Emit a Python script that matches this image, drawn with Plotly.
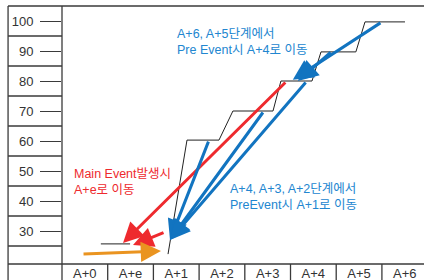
import plotly.graph_objects as go

# ---- category / axis data ----
x_labels = ["A+0", "A+e", "A+1", "A+2", "A+3", "A+4", "A+5", "A+6"]
x_pos = list(range(len(x_labels)))
y_ticks = [100, 90, 80, 70, 60, 50, 40, 30]
row_borders = [95, 85, 75, 65, 55, 45, 35, 25]
col_borders = [0.5, 1.5, 2.5, 3.5, 4.5, 5.5, 6.5]

# ---- black step line (price path) ----
step_x = [0.35, 0.99, None, 1.82, 2.235, 2.935, 3.24, 4.117, 4.29, 4.97, 5.167, 5.93, 6.13, 7.005]
step_y = [25.7, 25.7, None, 22.3, 60.3, 60.3, 70.0, 70.0, 80.0, 80.0, 89.7, 89.7, 99.7, 99.7]

# ---- arrows: tail (from) -> head (to) ----
red_from_x = [4.42, 1.754]
red_from_y = [80.0, 29.7]
red_to_x = [0.835, 1.054]
red_to_y = [26.0, 25.3]

blue_low_from_x = [2.717, 3.92, 4.86]      # A+2, A+3, A+4 -> A+1
blue_low_from_y = [60.3, 70.0, 80.0]
blue_low_to_x = [1.863, 1.863, 1.863]
blue_low_to_y = [27.0, 27.0, 27.0]

blue_high_from_x = [6.50, 5.41]            # A+6, A+5 -> A+4
blue_high_from_y = [99.7, 90.0]
blue_high_to_x = [4.55, 4.66]
blue_high_to_y = [80.4, 80.0]

orange_from_x = [-0.062]
orange_from_y = [22.3]
orange_to_x = [1.666]
orange_to_y = [23.3]

RED = "#ee2a2e"
BLUE = "#1274c0"
BLUE_TXT = "#2286d0"
ORANGE = "#ea9420"
GRID = "#3a3a3a"
FONT = "Liberation Sans, Arial, Noto Sans CJK KR, sans-serif"

fig = go.Figure()
fig.add_trace(go.Scatter(x=step_x, y=step_y, mode="lines",
                         line=dict(color="#222222", width=1), connectgaps=False,
                         hoverinfo="skip", showlegend=False))

annotations = []


def add_arrows(fx, fy, tx, ty, color):
    for a, b, c, d in zip(fx, fy, tx, ty):
        annotations.append(dict(x=c, y=d, ax=a, ay=b, xref="x", yref="y",
                                axref="x", ayref="y", text="", showarrow=True,
                                arrowhead=2, arrowsize=1.35, arrowwidth=3,
                                arrowcolor=color))


add_arrows(red_from_x, red_from_y, red_to_x, red_to_y, RED)
add_arrows(blue_low_from_x, blue_low_from_y, blue_low_to_x, blue_low_to_y, BLUE)
add_arrows(blue_high_from_x, blue_high_from_y, blue_high_to_x, blue_high_to_y, BLUE)
add_arrows(orange_from_x, orange_from_y, orange_to_x, orange_to_y, ORANGE)

# text labels
annotations.append(dict(x=1.98, y=92.9, xref="x", yref="y", xanchor="left", yanchor="middle",
                        align="left", showarrow=False,
                        text="A+6, A+5단계에서<br>Pre Event시 A+4로 이동",
                        font=dict(family=FONT, size=12.5, color=BLUE_TXT)))
annotations.append(dict(x=-0.275, y=46.3, xref="x", yref="y", xanchor="left", yanchor="middle",
                        align="left", showarrow=False,
                        text="Main Event발생시<br>A+e로 이동",
                        font=dict(family=FONT, size=12.5, color=RED)))
annotations.append(dict(x=3.14, y=41.5, xref="x", yref="y", xanchor="left", yanchor="middle",
                        align="left", showarrow=False,
                        text="A+4, A+3, A+2단계에서<br>PreEvent시 A+1로 이동",
                        font=dict(family=FONT, size=12.5, color=BLUE_TXT)))

# table frame
LEFT = -0.149
shapes = []
line_style = dict(color=GRID, width=1.3)
shapes.append(dict(type="line", xref="paper", yref="paper", x0=LEFT, x1=1.02, y0=1, y1=1, line=line_style))
shapes.append(dict(type="line", xref="paper", yref="paper", x0=LEFT, x1=1.02, y0=0, y1=0, line=line_style))
shapes.append(dict(type="line", xref="paper", yref="paper", x0=0, x1=0, y0=-0.2, y1=1, line=line_style))
shapes.append(dict(type="line", xref="paper", yref="paper", x0=LEFT, x1=LEFT, y0=-0.2, y1=1, line=line_style))
for rb in row_borders:
    shapes.append(dict(type="line", xref="paper", yref="y", x0=LEFT, x1=0, y0=rb, y1=rb, line=line_style))
for cb in col_borders:
    shapes.append(dict(type="line", xref="x", yref="paper", x0=cb, x1=cb, y0=-0.2, y1=0, line=line_style))

fig.update_layout(
    width=424, height=280,
    margin=dict(l=62, r=0, t=6, b=16),
    paper_bgcolor="white", plot_bgcolor="white",
    showlegend=False,
    annotations=annotations,
    shapes=shapes,
    font=dict(family=FONT, color="#333333"),
    xaxis=dict(range=[-0.5, 7.421], tickvals=x_pos, ticktext=x_labels, showgrid=False,
               zeroline=False, showline=False, ticks="", tickfont=dict(size=13, color="#333333"),
               fixedrange=True),
    yaxis=dict(range=[19, 105], tickvals=y_ticks, ticktext=[str(v) for v in y_ticks],
               showgrid=False, zeroline=False, showline=False, ticks="outside", ticklen=21,
               tickwidth=1.3, tickcolor=GRID, tickfont=dict(size=13, color="#333333"),
               ticklabelstandoff=4, fixedrange=True),
)

fig.write_html("out.html", config={"displayModeBar": False},
               post_script="document.body.style.margin='0';document.body.style.padding='0';")
